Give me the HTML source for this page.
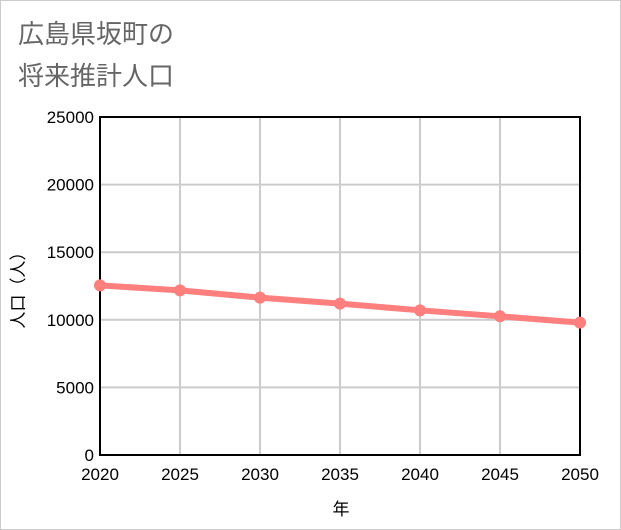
<!DOCTYPE html>
<html><head><meta charset="utf-8"><style>
html,body{margin:0;padding:0;background:#fff;}
svg{display:block;font-family:"Liberation Sans","Noto Sans CJK JP",sans-serif;}
</style></head><body>
<svg id="chart" width="621" height="530">
<rect x="0.5" y="0.5" width="620" height="529" fill="#ffffff" stroke="#cccccc"/>
<text x="18" y="43" font-size="26" fill="#666">広島県坂町の</text>
<text x="18" y="85" font-size="26" fill="#666">将来推計人口</text>
<g id="grid"></g>
<rect x="100" y="117" width="480" height="338" fill="none" stroke="#000" stroke-width="2"/>
<g id="ticks"></g>
<g id="series"></g>
<text x="341" y="515" font-size="17" text-anchor="middle" fill="#000">年</text>
<text transform="translate(24,286) rotate(-90)" font-size="17" text-anchor="middle" fill="#000">人口（人）</text>
</svg>
<script>
const years = [2020,2025,2030,2035,2040,2045,2050];
const population = [12546,12177,11638,11196,10701,10258,9793];
const yTicks = [0,5000,10000,15000,20000,25000];
const X0=100,X1=580,Y0=455,Y1=117;
const xs=v=>X0+(v-2020)/(2050-2020)*(X1-X0);
const ys=v=>Y0-(v/25000)*(Y0-Y1);
const NS="http://www.w3.org/2000/svg";
const grid=document.getElementById('grid'),ticks=document.getElementById('ticks'),series=document.getElementById('series');
function mk(t,a){const e=document.createElementNS(NS,t);for(const k in a)e.setAttribute(k,a[k]);return e;}
years.forEach(y=>{
  const l=mk('line',{x1:xs(y),x2:xs(y),y1:Y1,y2:Y0,stroke:'#cccccc','stroke-width':2});
  
  
  grid.appendChild(l);
  const t=mk('text',{x:xs(y),y:480,'font-size':17,'text-anchor':'middle',fill:'#000'});
  t.textContent=y;
  
  
  ticks.appendChild(t);
});
yTicks.forEach(v=>{
  const l=mk('line',{x1:X0,x2:X1,y1:ys(v),y2:ys(v),stroke:'#cccccc','stroke-width':2});
  
  
  grid.appendChild(l);
  const t=mk('text',{x:94,y:ys(v)+6,'font-size':17,'text-anchor':'end',fill:'#000'});
  t.textContent=v;
  
  
  ticks.appendChild(t);
});
const pl=mk('polyline',{points:years.map((y,i)=>xs(y)+','+ys(population[i])).join(' '),fill:'none',stroke:'#ff7f7f','stroke-width':6});


series.appendChild(pl);
years.forEach((y,i)=>{
  const c=mk('circle',{cx:xs(y),cy:ys(population[i]),r:6,fill:'#ff7f7f'});
  
  
  series.appendChild(c);
});
</script>
</body></html>
